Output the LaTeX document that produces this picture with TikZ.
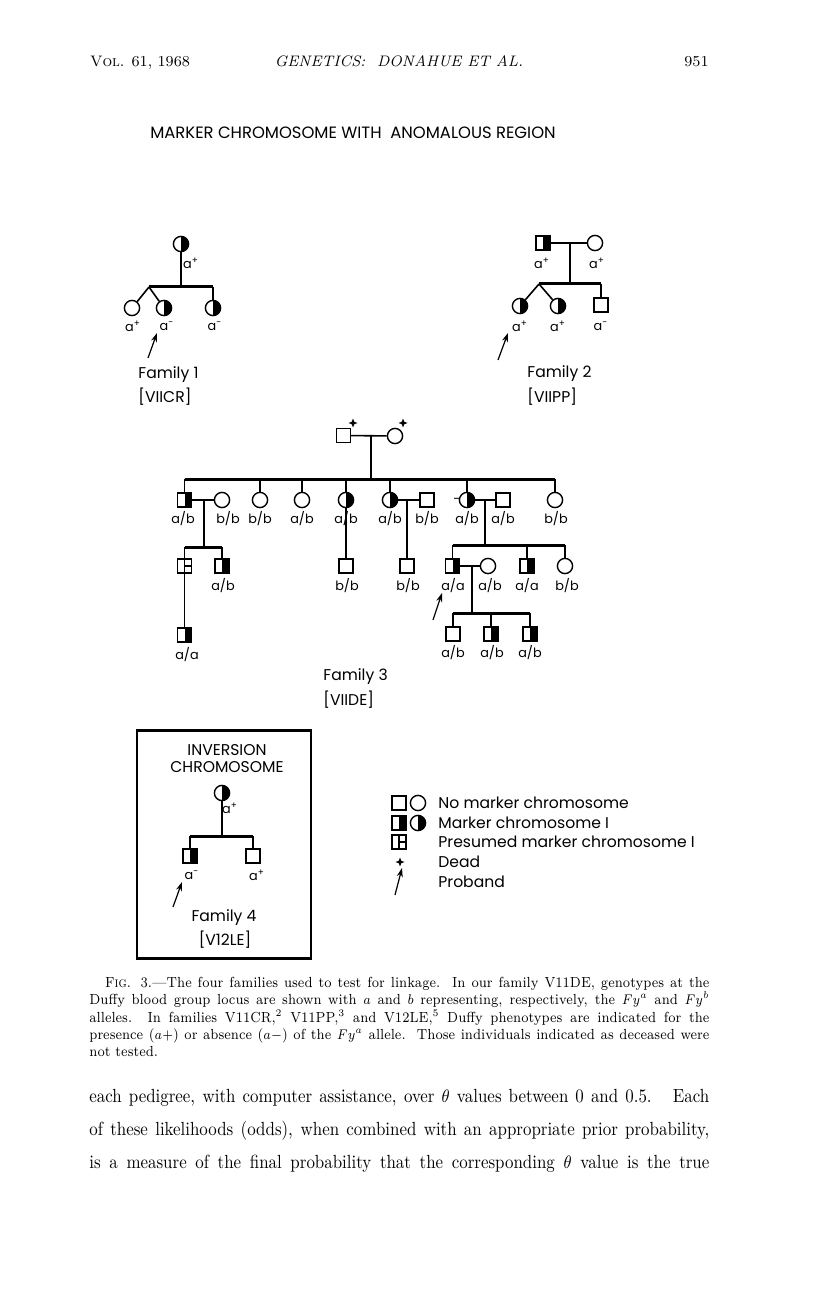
\documentclass[tikz,border=0pt]{standalone}
\usepackage{fontspec}
\usepackage{graphicx}
\newfontfamily\pedfont{Poppins}
\usetikzlibrary{shapes.geometric, arrows.meta, positioning}
\tikzset{
  pedsym/.style={
    draw, line width=0.7pt, inner sep=0pt, minimum size=7pt
  },
  pedmale/.style={pedsym, rectangle},
  pedfemale/.style={pedsym, circle, minimum size=7.6pt},
  pedmalemk/.style={pedmale,
    path picture={\fill (path picture bounding box.north)
      rectangle (path picture bounding box.south east);}
  },
  pedfemalemk/.style={pedfemale,
    path picture={\fill (path picture bounding box.north)
      rectangle (path picture bounding box.south east);}
  },
  pedpresumed/.style={pedmale,
    path picture={
      \draw[line width=0.6pt] (path picture bounding box.north)
        -- (path picture bounding box.south);
      \draw[line width=0.6pt] (path picture bounding box.center)
        -- (path picture bounding box.east);}
  },
  pedline/.style={line width=0.8pt},
  sibline/.style={line width=1.5pt},
  pedlabel/.style={font=\pedfont\fontsize{6.4}{7}\selectfont, inner sep=0pt},
  famlabel/.style={font=\pedfont\fontsize{7.8}{9}\selectfont, inner sep=0pt,
    anchor=west},
  legendlabel/.style={font=\pedfont\fontsize{7.8}{9}\selectfont, inner sep=0pt,
    anchor=west},
  probandarrow/.style={-{Stealth[length=4.5pt,width=3pt]}, line width=0.6pt},
  deadmark/.style={star, star points=4, star point ratio=2.6, fill=black,
    inner sep=0pt, minimum size=4.5pt},
  textblock/.style={anchor=north west, inner sep=0pt},
}

\begin{document}
\begin{tikzpicture}[x=0.5pt, y=-0.5pt]
  \useasboundingbox[fill=white] (0,0) rectangle (816,1304);

  % Running head
  \node[anchor=base west, inner sep=0pt, font=\fontsize{7.6}{9}\selectfont]
    (headvol) at (90,67) {V\textsc{ol}. 61, 1968};
  \node[anchor=base, inner sep=0pt, font=\fontsize{7.6}{9}\selectfont]
    (headtitle) at (399,67) {\textit{GENETICS:\ \ DONAHUE ET AL.}};
  \node[anchor=base east, inner sep=0pt, font=\fontsize{7.6}{9}\selectfont]
    (headpage) at (709,67) {951};

  % Figure title
  \node[anchor=base, inner sep=0pt, font=\pedfont\fontsize{8.2}{10}\selectfont]
    (figtitle) at (353,139) {MARKER CHROMOSOME WITH\ \ ANOMALOUS REGION};

  % Family 1
  \node[pedfemalemk] (f1mo) at (181,244) {};
  \node[pedlabel] (f1mol) at (191,263) {a\textsuperscript{+}};
  \coordinate (f1j) at (181,287);
  \coordinate (f1tw) at (149,287);
  \node[pedfemale] (f1c1) at (132,308) {};
  \node[pedfemalemk] (f1c2) at (164,308) {};
  \node[pedfemalemk] (f1c3) at (213,308) {};
  \draw[pedline] (f1mo) -- (f1j);
  \draw[sibline] (f1tw) -- (f1c3 |- f1tw);
  \draw[pedline] (f1tw) -- (f1c1);
  \draw[pedline] (f1tw) -- (f1c2);
  \draw[pedline] (f1c3 |- f1tw) -- (f1c3);
  \node[pedlabel] (f1c1l) at (133,326) {a\textsuperscript{+}};
  \node[pedlabel] (f1c2l) at (167,326) {a\textsuperscript{-}};
  \node[pedlabel] (f1c3l) at (215,326) {a\textsuperscript{-}};
  \coordinate (f1pb) at (148,358);
  \coordinate (f1pt) at (157,333);
  \draw[probandarrow] (f1pb) -- (f1pt);
  \node[famlabel] (f1name) at (138,375) {Family 1};
  \node[famlabel] (f1code) at (138,397) {[VIICR]};

  % Family 2
  \node[pedmalemk] (f2fa) at (543,243) {};
  \node[pedfemale] (f2mo) at (595,243) {};
  \coordinate (f2j) at (570,243);
  \coordinate (f2s) at (570,284);
  \coordinate (f2tw) at (539,284);
  \draw[pedline] (f2fa) -- (f2mo);
  \draw[pedline] (f2j) -- (f2s);
  \node[pedlabel] (f2fal) at (542,263) {a\textsuperscript{+}};
  \node[pedlabel] (f2mol) at (597,263) {a\textsuperscript{+}};
  \node[pedfemalemk] (f2c1) at (520,306) {};
  \node[pedfemalemk] (f2c2) at (558,306) {};
  \node[pedmale] (f2c3) at (601,305) {};
  \draw[sibline] (f2tw) -- (f2c3 |- f2tw);
  \draw[pedline] (f2tw) -- (f2c1);
  \draw[pedline] (f2tw) -- (f2c2);
  \draw[pedline] (f2c3 |- f2tw) -- (f2c3);
  \node[pedlabel] (f2c1l) at (520,326) {a\textsuperscript{+}};
  \node[pedlabel] (f2c2l) at (558,326) {a\textsuperscript{+}};
  \node[pedlabel] (f2c3l) at (601,326) {a\textsuperscript{-}};
  \coordinate (f2pb) at (498,360);
  \coordinate (f2pt) at (508,333);
  \draw[probandarrow] (f2pb) -- (f2pt);
  \node[famlabel] (f2name) at (527,374) {Family 2};
  \node[famlabel] (f2code) at (527,397) {[VIIPP]};

  % Family 3, generation I
  \node[pedmale] (f3fa) at (343.5,435.5) {};
  \node[pedfemale] (f3mo) at (395,436) {};
  \node[deadmark] (f3fad) at (353,423) {};
  \node[deadmark] (f3mod) at (403,423) {};
  \coordinate (f3j) at (371,436);
  \coordinate (f3s) at (371,479);
  \draw[pedline] (f3fa) -- (f3mo);
  \draw[pedline] (f3j) -- (f3s);

  % Family 3, generation II
  \node[pedmalemk] (f3c1) at (184.5,500) {};
  \node[pedfemale] (f3s1) at (222,500) {};
  \node[pedfemale] (f3c2) at (260,500) {};
  \node[pedfemale] (f3c3) at (302,500) {};
  \node[pedfemalemk] (f3c4) at (346,500) {};
  \node[pedfemalemk] (f3c5) at (390,500) {};
  \node[pedmale] (f3s5) at (427,500) {};
  \node[pedfemalemk] (f3c6) at (467,500) {};
  \node[pedmale] (f3s6) at (503,500) {};
  \node[pedfemale] (f3c7) at (555,500) {};
  \node[pedlabel] (f3c6dash) at (457,501) {-};
  \draw[sibline] (f3c1 |- f3s) -- (f3c7 |- f3s);
  \foreach \kid in {f3c1, f3c2, f3c3, f3c4, f3c5, f3c6, f3c7}
    \draw[pedline] (\kid |- f3s) -- (\kid);
  \draw[pedline] (f3c1) -- (f3s1);
  \draw[pedline] (f3c5) -- (f3s5);
  \draw[pedline] (f3c6) -- (f3s6);
  \node[pedlabel] (f3c1l) at (183,519) {a/b};
  \node[pedlabel] (f3s1l) at (228,519) {b/b};
  \node[pedlabel] (f3c2l) at (260,519) {b/b};
  \node[pedlabel] (f3c3l) at (302,519) {a/b};
  \node[pedlabel] (f3c4l) at (346,519) {a/b};
  \node[pedlabel] (f3c5l) at (390,519) {a/b};
  \node[pedlabel] (f3s5l) at (427,519) {b/b};
  \node[pedlabel] (f3c6l) at (467,519) {a/b};
  \node[pedlabel] (f3s6l) at (503,519) {a/b};
  \node[pedlabel] (f3c7l) at (556,519) {b/b};

  % Family 3, generation III
  \coordinate (f3j1) at (204,500);
  \coordinate (f3s1b) at (204,547);
  \node[pedpresumed] (f3g1) at (184.5,566) {};
  \node[pedmalemk] (f3g2) at (222,566) {};
  \node[pedmalemk] (f3g4) at (184.5,635) {};
  \draw[pedline] (f3j1) -- (f3s1b);
  \draw[sibline] (f3g1 |- f3s1b) -- (f3g2 |- f3s1b);
  \draw[pedline] (f3g1 |- f3s1b) -- (f3g1);
  \draw[pedline] (f3g2 |- f3s1b) -- (f3g2);
  \draw[pedline] (f3g1) -- (f3g4);
  \node[pedlabel] (f3g2l) at (223,586) {a/b};
  \node[pedlabel] (f3g4l) at (187,655) {a/a};

  \node[pedmale] (f3g3) at (346,566) {};
  \draw[pedline] (f3c4) -- (f3g3);
  \node[pedlabel] (f3g3l) at (347,586) {b/b};

  \coordinate (f3j5) at (407,500);
  \node[pedmale] (f3g5) at (407,566) {};
  \draw[pedline] (f3j5) -- (f3g5);
  \node[pedlabel] (f3g5l) at (408,586) {b/b};

  \coordinate (f3j6) at (485,500);
  \coordinate (f3s6b) at (485,545);
  \node[pedmalemk] (f3h1) at (452.5,566) {};
  \node[pedfemale] (f3h1s) at (488,566) {};
  \node[pedmalemk] (f3h2) at (527,566) {};
  \node[pedfemale] (f3h3) at (565,566) {};
  \draw[pedline] (f3j6) -- (f3s6b);
  \draw[sibline] (f3h1 |- f3s6b) -- (f3h3 |- f3s6b);
  \foreach \kid in {f3h1, f3h2, f3h3}
    \draw[pedline] (\kid |- f3s6b) -- (\kid);
  \draw[pedline] (f3h1) -- (f3h1s);
  \node[pedlabel] (f3h1l) at (453,586) {a/a};
  \node[pedlabel] (f3h1sl) at (490,586) {a/b};
  \node[pedlabel] (f3h2l) at (527,586) {a/a};
  \node[pedlabel] (f3h3l) at (567,586) {b/b};
  \coordinate (f3pb) at (433,620);
  \coordinate (f3pt) at (442,593);
  \draw[probandarrow] (f3pb) -- (f3pt);

  % Family 3, generation IV
  \coordinate (f3jh) at (472,566);
  \coordinate (f3sh) at (472,613);
  \node[pedmale] (f3k1) at (453,634) {};
  \node[pedmalemk] (f3k2) at (491,634) {};
  \node[pedmalemk] (f3k3) at (530,634) {};
  \draw[pedline] (f3jh) -- (f3sh);
  \draw[sibline] (f3k1 |- f3sh) -- (f3k3 |- f3sh);
  \foreach \kid in {f3k1, f3k2, f3k3}
    \draw[pedline] (\kid |- f3sh) -- (\kid);
  \node[pedlabel] (f3k1l) at (453,653) {a/b};
  \node[pedlabel] (f3k2l) at (492,653) {a/b};
  \node[pedlabel] (f3k3l) at (530,653) {a/b};
  \node[famlabel] (f3name) at (323,677) {Family 3};
  \node[famlabel] (f3code) at (323,700) {[VIIDE]};

  % Family 4 (inversion chromosome)
  \node[draw, line width=1.2pt, inner sep=0pt, minimum width=87pt,
    minimum height=114pt] (f4box) at (224,844.5) {};
  \node[famlabel, anchor=center] (f4head1) at (227,750) {INVERSION};
  \node[famlabel, anchor=center] (f4head2) at (227,767) {CHROMOSOME};
  \node[pedfemalemk] (f4mo) at (222,793) {};
  \node[pedlabel] (f4mol) at (230,808) {a\textsuperscript{+}};
  \coordinate (f4s) at (222,836);
  \node[pedmalemk] (f4c1) at (190,856) {};
  \node[pedmale] (f4c2) at (253,856) {};
  \draw[pedline] (f4mo) -- (f4s);
  \draw[sibline] (f4c1 |- f4s) -- (f4c2 |- f4s);
  \draw[pedline] (f4c1 |- f4s) -- (f4c1);
  \draw[pedline] (f4c2 |- f4s) -- (f4c2);
  \node[pedlabel] (f4c1l) at (192,875) {a\textsuperscript{-}};
  \node[pedlabel] (f4c2l) at (257,875) {a\textsuperscript{+}};
  \coordinate (f4pb) at (173,907);
  \coordinate (f4pt) at (182,882);
  \draw[probandarrow] (f4pb) -- (f4pt);
  \node[famlabel, anchor=center] (f4name) at (224,918) {Family 4};
  \node[famlabel, anchor=center] (f4code) at (225,940) {[V12LE]};

  % Legend
  \node[pedmale] (lgnom) at (399,803) {};
  \node[pedfemale] (lgnof) at (418,803) {};
  \node[legendlabel] (lgnot) at (438,803) {No marker chromosome};
  \node[pedmalemk] (lgmkm) at (399,823) {};
  \node[pedfemalemk] (lgmkf) at (418,823) {};
  \node[legendlabel] (lgmkt) at (438,823) {Marker chromosome I};
  \node[pedpresumed] (lgpr) at (399,842) {};
  \node[legendlabel] (lgprt) at (438,842) {Presumed marker chromosome I};
  \node[deadmark] (lgdead) at (400,862) {};
  \node[legendlabel] (lgdeadt) at (438,862) {Dead};
  \coordinate (lgpb) at (395,895);
  \coordinate (lgpt) at (402,868);
  \draw[probandarrow] (lgpb) -- (lgpt);
  \node[legendlabel] (lgpbt) at (438,882) {Proband};

  % Caption
  \node[textblock] (caption) at (89,977) {\scalebox{0.88}[1]{%
    \parbox[t]{352.3pt}{\fontsize{7.3}{8.6}\selectfont
    \hyphenpenalty=10000 \exhyphenpenalty=10000
    \hspace*{9pt}F\textsc{ig}. 3.---The four families used to test for
    linkage.\ \ In our family V11DE, genotypes at the\linebreak
    Duffy blood group locus are shown with $a$ and $b$ representing,
    respectively, the $Fy^{a}$ and $Fy^{b}$\linebreak
    alleles.\ \ In families V11CR,$^{2}$ V11PP,$^{3}$ and V12LE,$^{5}$
    Duffy phenotypes are indicated for the\linebreak
    presence ($a+$) or absence ($a-$) of the $Fy^{a}$ allele.\ \ Those
    individuals indicated as deceased were\linebreak
    not tested.}}};

  % Running text
  \node[textblock] (bodytext) at (89,1089) {\scalebox{0.89}[1]{%
    \parbox[t]{348.3pt}{\fontsize{9.5}{16.5}\selectfont
    \hyphenpenalty=10000 \exhyphenpenalty=10000 \parfillskip=0pt
    each pedigree, with computer assistance, over $\theta$ values between
    0 and 0.5.\ \ \ Each\linebreak
    of these likelihoods (odds), when combined with an appropriate prior
    probability,\linebreak
    is a measure of the final probability that the corresponding $\theta$
    value is the true\par}}};
\end{tikzpicture}
\end{document}
